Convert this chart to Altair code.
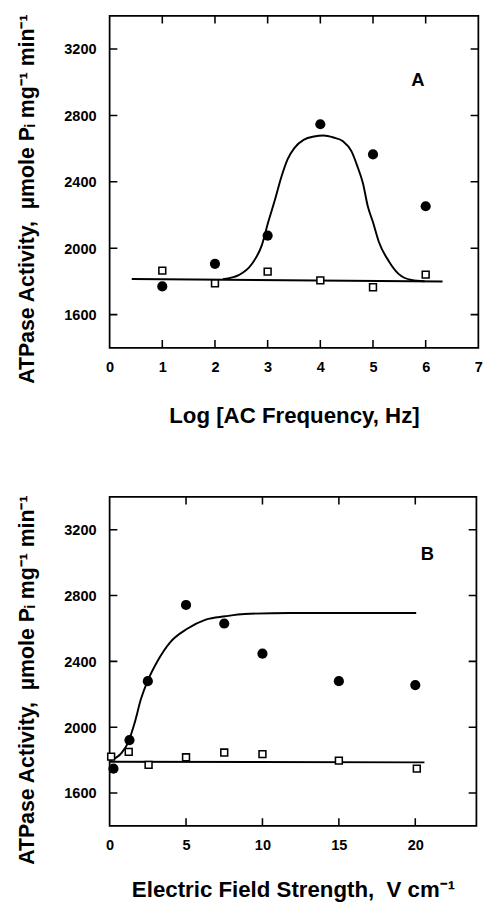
import altair as alt
import pandas as pd

FONT = "Liberation Sans"
Y_TITLE = "ATPase Activity,\u00a0\u00a0µmole Pᵢ mg⁻¹ min⁻¹"

# ---------------- Panel A data ----------------
a_title_x = "Log [AC Frequency, Hz]"
a_x = [1, 2, 3, 4, 5, 6]
a_field = [1770, 1906, 2076, 2747, 2565, 2253]
a_control = [1865, 1788, 1859, 1806, 1765, 1841]
a_curve_x = [2.15, 2.46, 2.70, 2.89, 3.01, 3.14, 3.26, 3.38, 3.51, 3.69, 3.88, 4.06,
             4.25, 4.43, 4.59, 4.71, 4.81, 4.90, 5.00, 5.11, 5.30, 5.49, 5.73, 5.98]
a_curve_y = [1814, 1840, 1905, 2019, 2156, 2293, 2429, 2537, 2605, 2654, 2673, 2679,
             2667, 2644, 2585, 2488, 2390, 2254, 2156, 2039, 1922, 1844, 1809, 1801]
a_flat_x = [0.42, 6.32]
a_flat_y = [1815, 1800]
a_ticks_x = [0, 1, 2, 3, 4, 5, 6, 7]
a_label = ["A"]
a_label_x = [5.85]
a_label_y = [3010]

# ---------------- Panel B data ----------------
b_title_x = "Electric Field Strength,\u00a0\u00a0V cm⁻¹"
b_field_x = [0.25, 1.3, 2.5, 5, 7.5, 10, 15, 20]
b_field = [1748, 1921, 2280, 2743, 2630, 2447, 2280, 2256]
b_control_x = [0.1, 1.25, 2.55, 5, 7.5, 10, 15, 20.1]
b_control = [1821, 1850, 1771, 1817, 1846, 1836, 1797, 1748]
b_curve_x = [0, 0.8, 1.2, 1.63, 2.05, 2.48, 3.11, 3.96, 5.02, 6.29, 7.56, 8.83, 11.8, 16.0, 20.06]
b_curve_y = [1797, 1846, 1905, 2024, 2171, 2280, 2398, 2516, 2595, 2654, 2674, 2688, 2694, 2694, 2694]
b_flat_x = [0, 20.6]
b_flat_y = [1790, 1786]
b_ticks_x = [0, 5, 10, 15, 20]
b_label = ["B"]
b_label_x = [20.8]
b_label_y = [3050]

y_ticks = [1600, 2000, 2400, 2800, 3200]
y_domain = [1400, 3400]


def panel(xs_pts, field, xs_ctrl, ctrl, cx, cy, fx, fy, lab, lx, ly,
          x_domain, x_ticks, x_title, w, h, xt_size, xt_pad):
    xsc = alt.Scale(domain=x_domain, nice=False, zero=False)
    ysc = alt.Scale(domain=y_domain, nice=False, zero=False)
    common_axis = dict(domain=False, grid=False, ticks=False,
                       labelFont=FONT, labelFontSize=15, labelFontWeight="bold",
                       labelColor="black", titleFont=FONT, titleFontWeight="bold",
                       titleColor="black", format="d")
    x_axis = alt.Axis(orient="bottom", values=x_ticks, labelPadding=12,
                      title=x_title, titleFontSize=xt_size, titlePadding=xt_pad,
                      labelFlush=False, **common_axis)
    y_axis = alt.Axis(orient="left", values=y_ticks, labelPadding=14,
                      title=Y_TITLE, titleFontSize=22, titlePadding=26,
                      titleY=-2, titleAlign="right", **common_axis)

    flat = pd.DataFrame({"x": fx, "y": fy})
    curve = pd.DataFrame({"x": cx, "y": cy})
    pts = pd.DataFrame({"x": xs_pts, "y": field})
    sq = pd.DataFrame({"x": xs_ctrl, "y": ctrl})
    txt = pd.DataFrame({"x": lx, "y": ly, "t": lab})
    # inward tick marks on all four frame edges (clipped half-ticks)
    inner_x = [v for v in x_ticks if x_domain[0] < v < x_domain[1]]
    tx = pd.DataFrame({"x": inner_x * 2,
                       "y": [y_domain[0]] * len(inner_x) + [y_domain[1]] * len(inner_x)})
    ty = pd.DataFrame({"y": y_ticks * 2,
                       "x": [x_domain[0]] * len(y_ticks) + [x_domain[1]] * len(y_ticks)})

    X = lambda: alt.X("x:Q", scale=xsc, axis=x_axis)
    Y = lambda: alt.Y("y:Q", scale=ysc, axis=y_axis)

    base_flat = alt.Chart(flat).mark_line(color="black", strokeWidth=2).encode(x=X(), y=Y())
    ticks_v = alt.Chart(tx).mark_tick(orient="vertical", size=16, thickness=1.6,
                                      color="black", opacity=1, clip=True).encode(x=X(), y=Y())
    ticks_h = alt.Chart(ty).mark_tick(orient="horizontal", size=16, thickness=1.6,
                                      color="black", opacity=1, clip=True).encode(x=X(), y=Y())
    curve_l = alt.Chart(curve).mark_line(color="black", strokeWidth=2,
                                         interpolate="monotone").encode(x=X(), y=Y())
    sq_l = alt.Chart(sq).mark_point(shape="square", size=50, filled=True, fill="white",
                                    stroke="black", strokeWidth=1.6, opacity=1).encode(x=X(), y=Y())
    pt_l = alt.Chart(pts).mark_circle(size=110, color="black", opacity=1).encode(x=X(), y=Y())
    t_l = alt.Chart(txt).mark_text(font=FONT, fontSize=19, fontWeight="bold",
                                   color="black").encode(x=X(), y=Y(), text="t:N")
    return alt.layer(base_flat, ticks_v, ticks_h, curve_l, sq_l, pt_l, t_l).properties(
        width=w, height=h)


pa = panel(a_x, a_field, a_x, a_control, a_curve_x, a_curve_y, a_flat_x, a_flat_y,
           a_label, a_label_x, a_label_y, [0, 7], a_ticks_x, a_title_x, 381, 343, 23, 32)
pb = panel(b_field_x, b_field, b_control_x, b_control, b_curve_x, b_curve_y, b_flat_x, b_flat_y,
           b_label, b_label_x, b_label_y, [0, 24], b_ticks_x, b_title_x, 379, 340, 23, 28)

chart = alt.vconcat(pa, pb, spacing=68).properties(
    padding={"left": 7, "top": -10, "right": 5, "bottom": 0},
    background="white",
).configure_view(stroke="black", strokeWidth=1.8)

chart.save("out.html", embed_options={"renderer": "svg", "actions": False})
